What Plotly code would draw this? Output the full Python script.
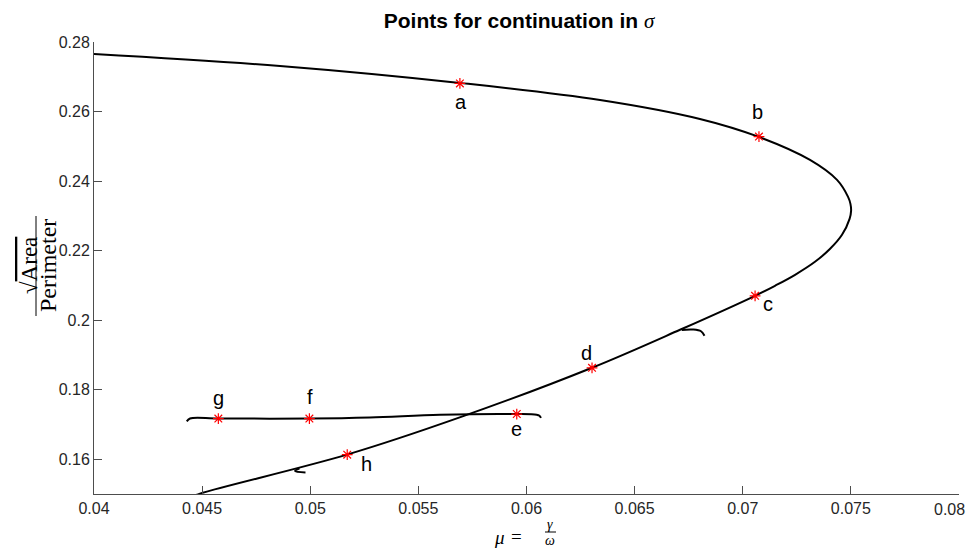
import plotly.graph_objects as go

# ---- data ----
# main solution branch, ordered along the curve (top-left -> nose -> bottom-left)
main_mu = [0.04000, 0.04860, 0.05692, 0.06340, 0.06802, 0.07075, 0.07311, 0.07436,
           0.07487, 0.07498, 0.07501, 0.07494, 0.07459, 0.07404, 0.07334, 0.07242,
           0.07149, 0.07057, 0.06710, 0.06303, 0.05688, 0.05170, 0.04490, 0.04444]
main_ratio = [0.27655, 0.27310, 0.26822, 0.26333, 0.25787, 0.25270, 0.24609, 0.24034,
              0.23546, 0.23345, 0.23144, 0.22914, 0.22454, 0.22052, 0.21678, 0.21305,
              0.20989, 0.20701, 0.19724, 0.18632, 0.17195, 0.16132, 0.15011, 0.14900]

# nearly flat branch through g, f, e
branch_mu = [0.04429, 0.04444, 0.04575, 0.04996, 0.05276, 0.05600, 0.05955, 0.06047,
             0.06060, 0.06067]
branch_ratio = [0.1709, 0.1717, 0.1717, 0.1717, 0.1720, 0.1728, 0.1730, 0.1728,
                0.1725, 0.1719]

# small hooks
hook1_mu = [0.06718, 0.06770, 0.06807, 0.06823]
hook1_ratio = [0.1972, 0.1973, 0.1968, 0.1955]
hook2_mu = [0.04950, 0.04930, 0.04978]
hook2_ratio = [0.1574, 0.1566, 0.1562]

# continuation points
pt_labels = ["a", "b", "c", "d", "e", "f", "g", "h"]
pt_mu = [0.05692, 0.07075, 0.07057, 0.06303, 0.05955, 0.04996, 0.04575, 0.05171]
pt_ratio = [0.2681, 0.2528, 0.2070, 0.1863, 0.1730, 0.1717, 0.1717, 0.1613]
pt_dx = [1, -1, 13, -6, 0, 1, 0, 19]      # label offsets in px
pt_dy = [-19, 25, -8, 15, -15, 22, 21, -9]

x_ticks = [0.04, 0.045, 0.05, 0.055, 0.06, 0.065, 0.07, 0.075, 0.08]
x_ticktext = ["0.04", "0.045", "0.05", "0.055", "0.06", "0.065", "0.07", "0.075", "0.08"]
y_ticks = [0.16, 0.18, 0.20, 0.22, 0.24, 0.26, 0.28]
y_ticktext = ["0.16", "0.18", "0.2", "0.22", "0.24", "0.26", "0.28"]

# page has an 8px body margin, so the figure is placed 8px in from the corner
W, H = 967, 540
L, R, T, B = 86, 16, 34, 54
X0, Y1 = 94, 494          # plot-area left / bottom in window pixels
PW, PH = 865, 452

def px(xp):   # window pixel -> paper x
    return (xp - X0) / PW

def py(yp):   # window pixel -> paper y
    return (Y1 - yp) / PH

tick_font = dict(family="Liberation Sans, Arial", size=16, color="#262626")

fig = go.Figure()
line_style = dict(color="black", width=2, shape="spline", smoothing=1.0)
for xs, ys in [(main_mu, main_ratio), (branch_mu, branch_ratio),
               (hook1_mu, hook1_ratio), (hook2_mu, hook2_ratio)]:
    fig.add_trace(go.Scatter(x=xs, y=ys, mode="lines", line=line_style,
                             showlegend=False, hoverinfo="skip"))

fig.add_trace(go.Scatter(x=pt_mu, y=pt_ratio, mode="markers", showlegend=False,
                         marker=dict(symbol="asterisk-open", size=9, color="#ff0000",
                                     line=dict(color="#ff0000", width=1.2))))

for lab, x, y, dx, dy in zip(pt_labels, pt_mu, pt_ratio, pt_dx, pt_dy):
    fig.add_annotation(x=x, y=y, text=lab, showarrow=False, xshift=dx, yshift=dy,
                       xanchor="center", yanchor="middle",
                       font=dict(family="Liberation Sans, Arial", size=20, color="black"))

serif = "Liberation Serif, Times New Roman, serif"
# y-axis label: sqrt(Area) / Perimeter
fig.add_annotation(xref="paper", yref="paper", x=px(29), y=py(266), textangle=-90,
                   xanchor="center", yanchor="middle",
                   text="√<span style='text-decoration:overline'>Area</span>",
                   showarrow=False, font=dict(family=serif, size=23, color="black"))
fig.add_annotation(xref="paper", yref="paper", x=px(48), y=py(266), textangle=-90,
                   xanchor="center", yanchor="middle",
                   text="Perimeter", showarrow=False,
                   font=dict(family=serif, size=24, color="black"))
fig.add_shape(type="line", xref="paper", yref="paper", x0=px(36), x1=px(36),
              y0=py(216), y1=py(316), line=dict(color="black", width=1))

# x-axis label: mu = gamma / omega
for txt, xx, yy, sz in [("<i>μ</i>", 499, 537, 19), ("=", 516, 536, 19),
                        ("<i>γ</i>", 550, 524, 14), ("<i>ω</i>", 550, 540, 14)]:
    fig.add_annotation(xref="paper", yref="paper", x=px(xx), y=py(yy), text=txt,
                       xanchor="center", yanchor="middle", showarrow=False,
                       font=dict(family=serif, size=sz, color="black"))
fig.add_shape(type="line", xref="paper", yref="paper", x0=px(545), x1=px(556),
              y0=py(532), y1=py(532), line=dict(color="black", width=1))

# the last x tick label sits on the page edge: draw it right-aligned so it stays visible
shown_ticktext = x_ticktext[:-1] + [""]
fig.add_annotation(xref="x", yref="paper", x=x_ticks[-1], y=py(509), text=x_ticktext[-1],
                   xanchor="right", yanchor="middle", xshift=8, showarrow=False,
                   font=tick_font)

axis_common = dict(showline=True, linecolor="#4d4d4d", linewidth=1, mirror=False,
                   ticks="inside", ticklen=8, tickcolor="#4d4d4d", showgrid=False,
                   zeroline=False, ticklabeloverflow="allow", tickfont=tick_font)

fig.update_layout(
    width=W, height=H,
    margin=dict(l=L, r=R, t=T, b=B, autoexpand=False),
    paper_bgcolor="white", plot_bgcolor="white",
    title=dict(text="<b>Points for continuation in </b><span style='font-family:Liberation Serif'><i>σ</i></span>",
               x=(519 - X0) / PW, xref="paper", xanchor="center",
               y=1 - 13 / H, yref="container", yanchor="middle",
               font=dict(family="Liberation Sans, Arial", size=21, color="black")),
    xaxis=dict(range=[0.04, 0.08], tickvals=x_ticks, ticktext=shown_ticktext, **axis_common),
    yaxis=dict(range=[0.15, 0.28], tickvals=y_ticks, ticktext=y_ticktext, **axis_common),
)

fig.write_html("out.html")
